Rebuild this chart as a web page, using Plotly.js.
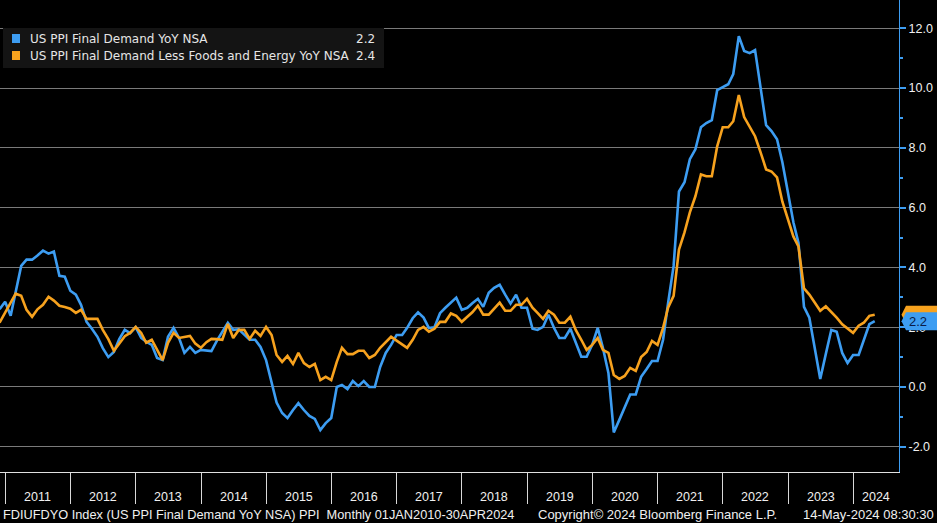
<!DOCTYPE html>
<html>
<head>
<meta charset="utf-8">
<script src="https://cdn.plot.ly/plotly-3.0.1.min.js"></script>
<style>
  html, body { margin: 0; padding: 0; background: #000; }
  #chart { width: 937px; height: 523px; }
</style>
</head>
<body>
<div id="chart"></div>
<script>
// ---------------- DATA (monthly, from Nov 2010 to Apr 2024) ----------------
const firstMonth = { year: 2010, month: 11 };   // Nov 2010
const seriesNames = [
  "US PPI Final Demand YoY NSA",
  "US PPI Final Demand Less Foods and Energy YoY NSA"
];
// US PPI Final Demand YoY NSA
const ppiFinalDemand = [
  2.6, 2.85,                                                              // 2010 Nov-Dec
  2.38, 3.2, 4.05, 4.26, 4.26, 4.4, 4.56, 4.46, 4.53, 3.72, 3.69, 3.22,   // 2011
  3.09, 2.75, 2.18, 1.95, 1.68, 1.3, 1.0, 1.17, 1.6, 1.91, 1.8, 2.0,      // 2012
  1.64, 1.52, 1.41, 0.97, 0.9, 1.68, 1.98, 1.64, 1.14, 1.34, 1.14, 1.24,  // 2013
  1.22, 1.2, 1.55, 1.85, 2.15, 1.91, 1.93, 1.75, 1.58, 1.58, 1.34, 0.9,   // 2014
  0.13, -0.52, -0.87, -1.04, -0.77, -0.54, -0.77, -0.97, -1.07, -1.44, -1.21, -1.04, // 2015
  0.0, 0.07, -0.07, 0.2, 0.03, 0.2, 0.0, 0.0, 0.67, 1.14, 1.41, 1.74,     // 2016
  1.74, 1.98, 2.3, 2.5, 2.32, 1.97, 2.0, 2.47, 2.65, 2.82, 2.99, 2.58,    // 2017
  2.65, 2.8, 2.95, 2.68, 3.15, 3.32, 3.42, 3.09, 2.79, 3.09, 2.65, 2.65,  // 2018
  1.95, 1.91, 2.01, 2.42, 1.98, 1.64, 1.64, 1.95, 1.48, 1.01, 1.01, 1.41, // 2019
  1.98, 1.31, 0.47, -1.52, -1.1, -0.68, -0.25, -0.25, 0.34, 0.6, 0.87, 0.87, // 2020
  1.58, 2.8, 4.05, 6.54, 6.85, 7.62, 7.95, 8.69, 8.83, 8.93, 9.93, 10.03, // 2021
  10.13, 10.47, 11.74, 11.24, 11.17, 11.27, 9.97, 8.76, 8.56, 8.29, 7.52, 6.5, // 2022
  5.5, 4.83, 2.68, 2.32, 1.24, 0.27, 1.1, 1.91, 1.85, 1.14, 0.8, 1.07,    // 2023
  1.07, 1.6, 2.1, 2.2                                                     // 2024
];
// US PPI Final Demand Less Foods and Energy YoY NSA
const ppiCore = [
  2.15, 2.5,                                                              // 2010 Nov-Dec
  2.8, 3.12, 3.05, 2.58, 2.35, 2.6, 2.75, 3.02, 2.89, 2.72, 2.68, 2.62,   // 2011
  2.48, 2.58, 2.28, 2.28, 2.28, 1.91, 1.6, 1.21, 1.45, 1.7, 1.81, 2.01,   // 2012
  1.81, 1.48, 1.58, 1.24, 0.9, 1.48, 1.81, 1.64, 1.68, 1.71, 1.45, 1.31,  // 2013
  1.5, 1.61, 1.6, 1.58, 2.11, 1.64, 1.91, 1.91, 1.61, 1.88, 1.71, 2.01,   // 2014
  1.74, 1.07, 0.84, 1.04, 0.77, 1.14, 0.8, 0.67, 0.77, 0.23, 0.34, 0.23,  // 2015
  0.84, 1.31, 1.1, 1.1, 1.21, 1.21, 0.97, 1.07, 1.31, 1.51, 1.68, 1.55,   // 2016
  1.41, 1.31, 1.58, 1.91, 2.01, 1.85, 1.95, 2.18, 2.18, 2.46, 2.38, 2.18, // 2017
  2.35, 2.5, 2.72, 2.42, 2.42, 2.6, 2.82, 2.55, 2.55, 2.75, 2.75, 2.95,   // 2018
  2.65, 2.48, 2.28, 2.55, 2.42, 2.15, 2.15, 2.35, 1.91, 1.58, 1.24, 1.41, // 2019
  1.64, 1.24, 1.14, 0.4, 0.27, 0.37, 0.64, 0.54, 1.0, 1.17, 1.54, 1.41,   // 2020
  1.98, 2.65, 3.05, 4.6, 5.17, 5.84, 6.38, 7.11, 7.05, 7.05, 8.05, 8.69,  // 2021
  8.69, 8.89, 9.77, 9.03, 8.69, 8.39, 7.85, 7.28, 7.21, 7.01, 6.2, 5.6,   // 2022
  5.03, 4.7, 3.3, 3.09, 2.82, 2.55, 2.7, 2.52, 2.32, 2.1, 1.95, 1.81,     // 2023
  2.05, 2.15, 2.38, 2.42                                                  // 2024
];
const yearLabels = ["2011","2012","2013","2014","2015","2016","2017","2018","2019","2020","2021","2022","2023","2024"];
const yTickValues = [-2, 0, 2, 4, 6, 8, 10, 12];
const footerLeft = "FDIUFDYO Index (US PPI Final Demand YoY NSA) PPI  Monthly 01JAN2010-30APR2024";
const footerMid = "Copyright\u00A9 2024 Bloomberg Finance L.P.";
const footerRight = "14-May-2024 08:30:30";

// ---------------- BUILD ----------------
function pad(n) { return (n < 10 ? "0" : "") + n; }
const dates = ppiFinalDemand.map((_, i) => {
  const d = new Date(Date.UTC(firstMonth.year, firstMonth.month - 1 + i + 1, 0)); // month-end
  return d.getUTCFullYear() + "-" + pad(d.getUTCMonth() + 1) + "-" + pad(d.getUTCDate());
});

const BLUE = "#3d9df2";
const ORANGE = "#f7a21e";
const FONT = "Liberation Sans, Arial, sans-serif";
const LEGFONT = "DejaVu Sans, Liberation Sans, sans-serif";

const xRange = ["2010-12-02 08:00", "2024-09-13"];
const yRange = [-2.844, 12.947];

const traces = [
  { x: dates, y: ppiFinalDemand, type: "scatter", mode: "lines", name: seriesNames[0],
    line: { color: BLUE, width: 2.6 }, hoverinfo: "skip" },
  { x: dates, y: ppiCore, type: "scatter", mode: "lines", name: seriesNames[1],
    line: { color: ORANGE, width: 2.6 }, hoverinfo: "skip" }
];

const lastBlue = ppiFinalDemand[ppiFinalDemand.length - 1];
const lastOrange = ppiCore[ppiCore.length - 1];

const plotW = 899, plotH = 472;
const px = v => v / plotW;           // px -> paper x
const py = v => 1 - v / plotH;       // px from top -> paper y
const unitPx = plotH / (yRange[1] - yRange[0]);

function tagPath(v) {
  const h = 9 / unitPx;
  const xt = 1 + 2.5 / plotW, x0 = 1 + 7 / plotW, x1 = 1 + 40 / plotW;
  return `M ${xt} ${v} L ${x0} ${v + h} L ${x1} ${v + h} L ${x1} ${v - h} L ${x0} ${v - h} Z`;
}

const shapes = [
  // legend box
  { type: "rect", xref: "paper", yref: "paper", x0: px(3), x1: px(384), y0: py(68), y1: py(28),
    fillcolor: "#141414", line: { width: 0 }, layer: "above" },
  { type: "rect", xref: "paper", yref: "paper", x0: px(12), x1: px(20), y0: py(43), y1: py(34),
    fillcolor: BLUE, line: { width: 0 }, layer: "above" },
  { type: "rect", xref: "paper", yref: "paper", x0: px(12), x1: px(20), y0: py(60), y1: py(51),
    fillcolor: ORANGE, line: { width: 0 }, layer: "above" },
  // last value tags
  { type: "path", xref: "paper", yref: "y", path: tagPath(lastOrange), fillcolor: ORANGE,
    line: { width: 0 }, layer: "above" },
  { type: "path", xref: "paper", yref: "y", path: tagPath(lastBlue), fillcolor: BLUE,
    line: { width: 0 }, layer: "above" }
];

const annotations = [
  { xref: "paper", yref: "paper", x: px(28), y: py(39.5), xanchor: "left", yanchor: "middle",
    text: seriesNames[0], showarrow: false, font: { family: LEGFONT, size: 12, color: "#e6e6e6" } },
  { xref: "paper", yref: "paper", x: px(28), y: py(56.5), xanchor: "left", yanchor: "middle",
    text: seriesNames[1], showarrow: false, font: { family: LEGFONT, size: 12, color: "#e6e6e6" } },
  { xref: "paper", yref: "paper", x: px(377), y: py(39.5), xanchor: "right", yanchor: "middle",
    text: lastBlue.toFixed(1), showarrow: false, font: { family: LEGFONT, size: 12, color: "#e6e6e6" } },
  { xref: "paper", yref: "paper", x: px(377), y: py(56.5), xanchor: "right", yanchor: "middle",
    text: lastOrange.toFixed(1), showarrow: false, font: { family: LEGFONT, size: 12, color: "#e6e6e6" } },
  // tag text
  { xref: "paper", yref: "y", x: 1 + 8 / plotW, y: lastBlue, xanchor: "left", yanchor: "middle",
    text: lastBlue.toFixed(1), showarrow: false, font: { family: FONT, size: 13, color: "#0a1c48" } },
  // footer
  { xref: "paper", yref: "paper", x: px(1), y: py(514), xanchor: "left", yanchor: "middle",
    text: footerLeft, showarrow: false, font: { family: FONT, size: 12.75, color: "#f0f0f0" } },
  { xref: "paper", yref: "paper", x: px(536), y: py(514), xanchor: "left", yanchor: "middle",
    text: footerMid, showarrow: false, font: { family: FONT, size: 13, color: "#f0f0f0" } },
  { xref: "paper", yref: "paper", x: px(936), y: py(514), xanchor: "right", yanchor: "middle",
    text: footerRight, showarrow: false, font: { family: FONT, size: 13, color: "#f0f0f0" } }
];

// year labels centred in visible part of each year
const r0 = Date.parse(xRange[0].replace(" ", "T") + "Z"), r1 = Date.parse(xRange[1] + "T00:00Z");
yearLabels.forEach(y => {
  const a = Math.max(Date.UTC(+y, 0, 1), r0), b = Math.min(Date.UTC(+y + 1, 0, 1), r1);
  const mid = new Date((a + b) / 2).toISOString().slice(0, 10);
  annotations.push({ xref: "x", yref: "paper", x: mid, y: py(497), xanchor: "center", yanchor: "middle",
    text: y, showarrow: false, font: { family: FONT, size: 12.5, color: "#f0f0f0" } });
});

const layout = {
  width: 937, height: 523,
  margin: { l: 0, r: 38, t: 0, b: 51, pad: 0 },
  paper_bgcolor: "#000", plot_bgcolor: "#000",
  showlegend: false,
  font: { family: FONT, color: "#f0f0f0" },
  xaxis: {
    type: "date", range: xRange, showgrid: false, zeroline: false,
    showline: true, linecolor: "#e0e0e0", linewidth: 1,
    tickmode: "array", tickvals: yearLabels.map(y => y + "-01-01"),
    ticks: "outside", ticklen: 31, tickwidth: 1, tickcolor: "#d8d8d8",
    showticklabels: false, fixedrange: true
  },
  yaxis: {
    side: "right", range: yRange, zeroline: false,
    tickmode: "array", tickvals: yTickValues, ticktext: yTickValues.map(v => v.toFixed(1)),
    showgrid: true, gridcolor: "#7a7a7a", gridwidth: 1,
    showline: true, linecolor: BLUE, linewidth: 1,
    ticks: "outside", ticklen: 6, tickwidth: 2, tickcolor: BLUE,
    minor: { tickmode: "linear", tick0: 1, dtick: 2, ticks: "outside", ticklen: 3, tickcolor: BLUE, showgrid: false },
    tickfont: { family: FONT, size: 12.5, color: "#f0f0f0" },
    fixedrange: true
  },
  shapes: shapes,
  annotations: annotations
};

Plotly.newPlot("chart", traces, layout, { displayModeBar: false, staticPlot: true });
</script>
</body>
</html>
